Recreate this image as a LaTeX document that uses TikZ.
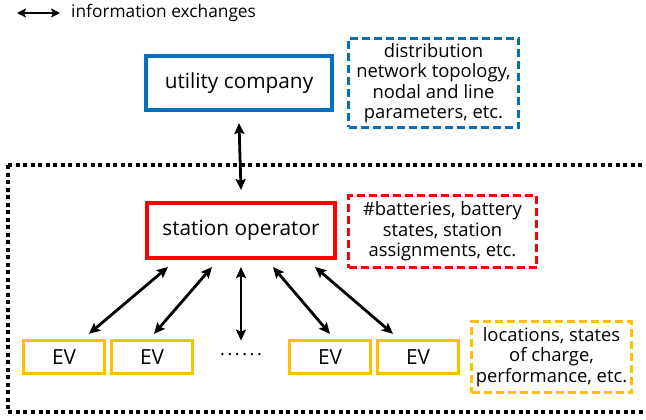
\documentclass[tikz,border=0pt]{standalone}
\usepackage{fontspec}
\setmainfont{Open Sans}
\usetikzlibrary{arrows.meta,calc}
\definecolor{ublue}{HTML}{0070C0}
\definecolor{ured}{HTML}{FF0000}
\definecolor{uyel}{HTML}{FFC000}
\begin{document}
\begin{tikzpicture}[x=1pt,y=-1pt,
  mainbox/.style={draw, line width=4pt, minimum width=#1, minimum height=54pt, inner sep=0pt, font=\fontsize{20.8}{24}\selectfont},
  infobox/.style={draw, line width=3pt, dash pattern=on 8pt off 4pt, inner sep=0pt, align=center, font=\fontsize{18.4}{20.5}\selectfont},
  evbox/.style={draw=uyel, line width=3.3pt, minimum width=81pt, minimum height=33pt, inner sep=0pt, font=\fontsize{20.8}{24}\selectfont},
  arr/.style={line width=2.8pt, {Stealth[length=11pt,width=10pt,inset=2pt]}-{Stealth[length=11pt,width=10pt,inset=2pt]}}]
\clip (0,0) rectangle (646,420);
\useasboundingbox (0,0) rectangle (646,420);
% legend
\coordinate (la) at (17,13);
\coordinate (lb) at (60,13);
\draw[line width=2.8pt, {Stealth[length=9pt,width=9pt,inset=2pt]}-{Stealth[length=9pt,width=9pt,inset=2pt]}] (la) -- (lb);
\node[anchor=west, inner sep=0pt, font=\fontsize{17.3}{20}\selectfont] (leg) at (71,13) {information exchanges};
% dotted region
\draw[line width=4pt, dash pattern=on 4pt off 3.5pt] (8,165) -- (660,165) (8,165) -- (8,412) -- (660,412);
% utility
\node[mainbox=186pt, draw=ublue] (uc) at (239,83) {utility company};
\node[infobox, draw=ublue, minimum width=170pt, minimum height=89pt] (ucinfo) at (433.5,83) {distribution\\network topology,\\nodal and line\\parameters, etc.};
% station operator
\node[mainbox=188pt, draw=ured, minimum height=55pt] (so) at (241,230.5) {station operator};
\node[infobox, draw=ured, minimum width=188pt, minimum height=72pt] (soinfo) at (442.5,231.5) {\#batteries, battery\\states, station\\assignments, etc.};
% EVs
\node[evbox] (ev1) at (64,357) {EV};
\node[evbox] (ev2) at (152,357) {EV};
\node[inner sep=0pt, font=\fontsize{18}{22}\selectfont] (dots) at (241,355) {.\hspace{2.6pt}.\hspace{2.6pt}.\hspace{2.6pt}.\hspace{2.6pt}.\hspace{2.6pt}.};
\node[evbox] (ev3) at (330,357) {EV};
\node[evbox] (ev4) at (418,357) {EV};
\node[infobox, draw=uyel, minimum width=160pt, minimum height=71pt] (evinfo) at (551.5,357) {locations, states\\of charge,\\performance, etc.};
% arrows
\draw[arr] ([yshift=-11pt]uc.south) -- ([yshift=11pt]so.north);
\draw[arr] ([xshift=-73pt,yshift=-7pt]so.south) -- ([xshift=25pt,yshift=5pt]ev1.north);
\draw[arr] ([xshift=-29pt,yshift=-7pt]so.south) -- ([xshift=2pt,yshift=5pt]ev2.north);
\draw[arr] ([yshift=-7pt]so.south) -- ([yshift=13pt]dots.north);
\draw[arr] ([xshift=32pt,yshift=-7pt]so.south) -- ([yshift=5pt]ev3.north);
\draw[arr] ([xshift=74pt,yshift=-7pt]so.south) -- ([xshift=-25pt,yshift=5pt]ev4.north);
\end{tikzpicture}
\end{document}
